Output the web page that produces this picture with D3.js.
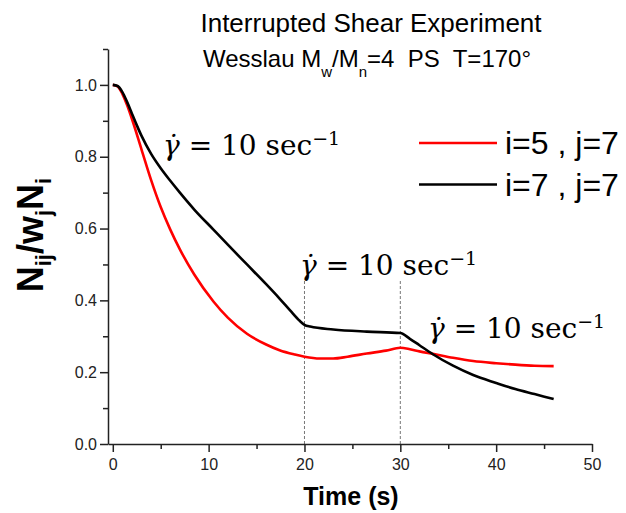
<!DOCTYPE html>
<html>
<head>
<meta charset="utf-8">
<script src="https://cdn.jsdelivr.net/npm/d3@7"></script>
<style>
  body { margin: 0; background: #fff; }
  text { font-family: "Liberation Sans", Arial, sans-serif; }
</style>
</head>
<body>
<script>
const width = 626;
const height = 513;

// time points (s) and normalized values
const timeRed = [0, 0.5, 1, 1.5, 2, 3, 4, 5, 6, 7, 8.5, 10.5, 12, 14, 16, 17.4, 19, 20, 21.6, 23, 24.5, 26.5, 28.5, 30, 31, 32, 33.4, 35.5, 37.6, 40, 42, 44, 46];
const valRed = [1.0, 0.996, 0.975, 0.943, 0.905, 0.82, 0.735, 0.66, 0.597, 0.542, 0.472, 0.397, 0.352, 0.307, 0.277, 0.261, 0.249, 0.243, 0.238, 0.238, 0.243, 0.252, 0.26, 0.268, 0.264, 0.258, 0.251, 0.24, 0.231, 0.225, 0.221, 0.218, 0.217];
const timeBlack = [0, 0.5, 1, 1.5, 2, 2.5, 3, 4, 5, 6, 7, 8.5, 10.5, 12, 14, 16, 17.4, 18.5, 19.5, 20, 20.6, 23, 26.5, 30, 31, 32, 33.4, 35.5, 37.6, 40, 42, 44, 46];
const valBlack = [1.0, 0.997, 0.98, 0.952, 0.92, 0.888, 0.858, 0.808, 0.768, 0.733, 0.70, 0.653, 0.597, 0.555, 0.50, 0.445, 0.405, 0.372, 0.343, 0.332, 0.327, 0.319, 0.313, 0.309, 0.293, 0.275, 0.25, 0.218, 0.192, 0.17, 0.153, 0.139, 0.125];

const seriesNames = ["i=5 , j=7", "i=7 , j=7"];
const seriesColors = ["#ff0000", "#000000"];
const shearStarts = [20, 30];

const xMajor = [0, 10, 20, 30, 40, 50];
const xMinor = [5, 15, 25, 35, 45];
const yMajor = [0, 0.2, 0.4, 0.6, 0.8, 1.0];
const yMinor = [0.1, 0.3, 0.5, 0.7, 0.9, 1.1];

const x = d3.scaleLinear().domain([-0.5, 50]).range([108, 592]);
const y = d3.scaleLinear().domain([0, 1.1]).range([444, 49]);

const svg = d3.select('body').append('svg')
  .attr('width', width)
  .attr('height', height);

// title
svg.append('text')
  .attr('x', 371).attr('y', 32)
  .attr('text-anchor', 'middle')
  .style('font-size', '26px')
  .text('Interrupted Shear Experiment');

const t2 = svg.append('text')
  .attr('x', 367).attr('y', 67)
  .attr('text-anchor', 'middle')
  .style('font-size', '24px')
  .style('white-space', 'pre');
t2.append('tspan').text('Wesslau M');
t2.append('tspan').attr('dy', 10).style('font-size', '15px').text('w');
t2.append('tspan').attr('dy', -10).text('/M');
t2.append('tspan').attr('dy', 10).style('font-size', '15px').text('n');
t2.append('tspan').attr('dy', -10).text('=4  PS  T=170\u00b0');

// dashed markers where shear restarts
svg.selectAll('line.marker')
  .data(shearStarts)
  .enter().append('line')
  .attr('class', 'marker')
  .attr('x1', d => x(d)).attr('x2', d => x(d))
  .attr('y1', y(0)).attr('y2', y(0.455))
  .attr('stroke', '#777')
  .attr('stroke-width', 1)
  .attr('stroke-dasharray', '3,2');

// axes
const gx = svg.append('g').attr('transform', `translate(0,${y(0)})`);
gx.call(d3.axisBottom(x).tickValues(xMajor).tickSize(8).tickSizeOuter(0).tickPadding(7));
gx.append('g').call(d3.axisBottom(x).tickValues(xMinor).tickSize(5).tickFormat(''))
  .select('.domain').remove();

const gy = svg.append('g').attr('transform', `translate(${x(-0.5)},0)`);
gy.call(d3.axisLeft(y).tickValues(yMajor).tickSize(8).tickSizeOuter(0).tickFormat(d3.format('.1f')));
gy.append('g').call(d3.axisLeft(y).tickValues(yMinor).tickSize(5).tickFormat(''))
  .select('.domain').remove();

svg.selectAll('.tick text')
  .style('font-size', '16px')
  .style('font-family', '"Liberation Sans", Arial, sans-serif')
  .attr('fill', '#222');
svg.selectAll('.domain, .tick line').attr('stroke', '#222').attr('stroke-width', 1.5);

// axis titles
svg.append('text')
  .attr('x', 351).attr('y', 505)
  .attr('text-anchor', 'middle')
  .style('font-size', '25px')
  .style('font-weight', 'bold')
  .text('Time (s)');

const yl = svg.append('text')
  .attr('transform', 'translate(43,235) rotate(-90)')
  .attr('text-anchor', 'middle')
  .style('font-size', '36px')
  .style('font-weight', 'bold');
yl.append('tspan').text('N');
yl.append('tspan').attr('dy', 8).style('font-size', '22px').text('ij');
yl.append('tspan').attr('dy', -8).text('/w');
yl.append('tspan').attr('dy', 8).style('font-size', '22px').text('j');
yl.append('tspan').attr('dy', -8).text('N');
yl.append('tspan').attr('dy', 8).style('font-size', '22px').text('i');

// curves
const line = d3.line()
  .x(d => x(d[0]))
  .y(d => y(d[1]))
  .curve(d3.curveMonotoneX);

const curves = [d3.zip(timeRed, valRed), d3.zip(timeBlack, valBlack)];

svg.selectAll('path.curve')
  .data(curves)
  .enter().append('path')
  .attr('class', 'curve')
  .attr('fill', 'none')
  .attr('stroke', (d, i) => seriesColors[i])
  .attr('stroke-width', 2.6)
  .attr('stroke-linejoin', 'round')
  .attr('d', line);

// shear rate annotations
const annot = [[163, 155], [300, 275], [428, 338]];
annot.forEach(function (p) {
  const t = svg.append('text')
    .attr('x', p[0]).attr('y', p[1])
    .style('font-family', '"DejaVu Serif", serif')
    .style('font-size', '28px');
  t.append('tspan').style('font-style', 'italic').text('\u03b3\u0307');
  t.append('tspan').text(' = 10 sec');
  t.append('tspan').attr('dy', -10).style('font-size', '19px').text('\u22121');
});

// legend
const legend = svg.selectAll('g.legend')
  .data(seriesNames)
  .enter().append('g')
  .attr('class', 'legend')
  .attr('transform', (d, i) => `translate(0,${143 + i * 41.5})`);

legend.append('line')
  .attr('x1', 419).attr('x2', 497)
  .attr('stroke', (d, i) => seriesColors[i])
  .attr('stroke-width', 2.6);

legend.append('text')
  .attr('x', 505).attr('y', 11)
  .style('font-size', '32px')
  .text(d => d);
</script>
</body>
</html>
